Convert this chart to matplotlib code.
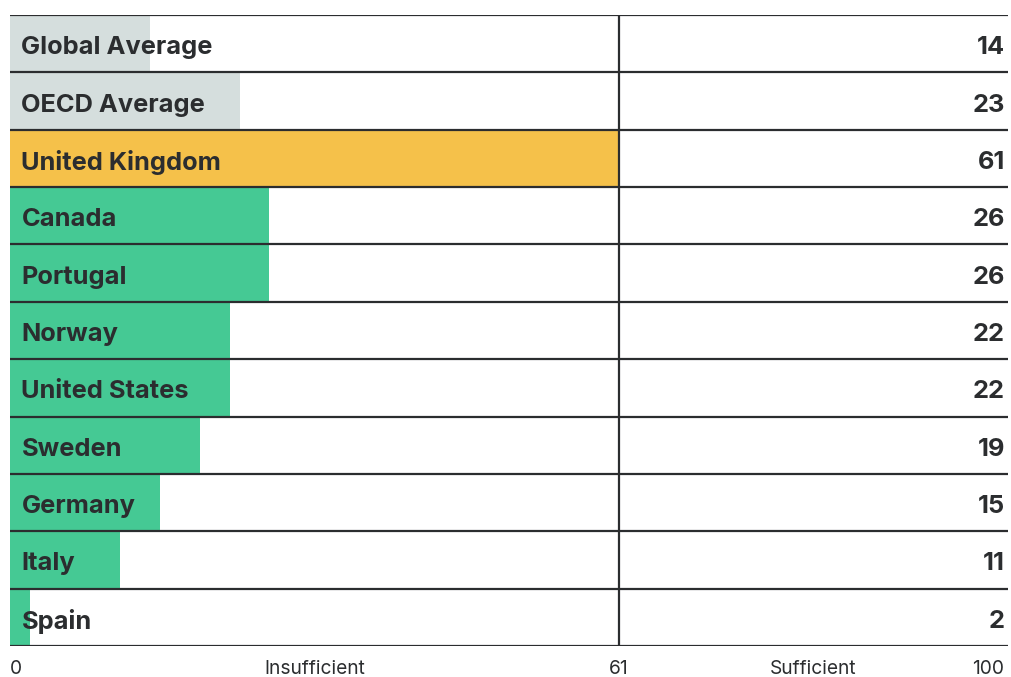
import matplotlib.pyplot as plt

# data
countries = ['Global Average', 'OECD Average', 'United Kingdom', 'Canada', 'Portugal',
             'Norway', 'United States', 'Sweden', 'Germany', 'Italy', 'Spain']
scores = [14, 23, 61, 26, 26, 22, 22, 19, 15, 11, 2]
kinds = ['avg', 'avg', 'uk', 'other', 'other', 'other', 'other', 'other', 'other', 'other', 'other']
threshold = 61
tick_labels = [(0, '0'), (30.5, 'Insufficient'), (61, '61'), (80.5, 'Sufficient'), (100, '100')]

COLORS = {'avg': '#d5dedd', 'uk': '#f5c14a', 'other': '#45c994'}
DARK = '#2b2d2f'
FONT = 'Inter'

fig = plt.figure(figsize=(10.11, 6.77), dpi=100)
ax = fig.add_axes([10 / 1011, 31 / 677, 998 / 1011, 631 / 677])

n = len(countries)
for i, (name, val, kind) in enumerate(zip(countries, scores, kinds)):
    ax.barh(i, val, height=1.0, left=0, color=COLORS[kind], zorder=1)
    ax.text(1.15, i + 0.07, name, va='center', ha='left', fontsize=18.3,
            fontweight='bold', color=DARK, family=FONT, zorder=3)
    ax.text(99.7, i + 0.07, str(val), va='center', ha='right', fontsize=18.3,
            fontweight='bold', color=DARK, family=FONT, zorder=3)

# row separators
for y in range(n + 1):
    ax.axhline(y - 0.5, color=DARK, lw=1.6, zorder=2)
ax.axvline(threshold, color=DARK, lw=1.6, zorder=2)

ax.set_xlim(0, 100)
ax.set_ylim(n - 0.5, -0.5)
ax.axis('off')

# bottom scale labels, placed in figure coords below the axes
for x, lab in tick_labels:
    ha = 'center'
    if x == 0:
        ha = 'left'
    elif x == 100:
        ha = 'right'
        x = 99.6
    fx = fig.transFigure.inverted().transform(ax.transData.transform((x, 0)))[0]
    fig.text(fx, 8 / 677, lab, ha=ha, va='center', fontsize=13.8,
             color=DARK, family=FONT)

fig.savefig('out.png', dpi=100)
